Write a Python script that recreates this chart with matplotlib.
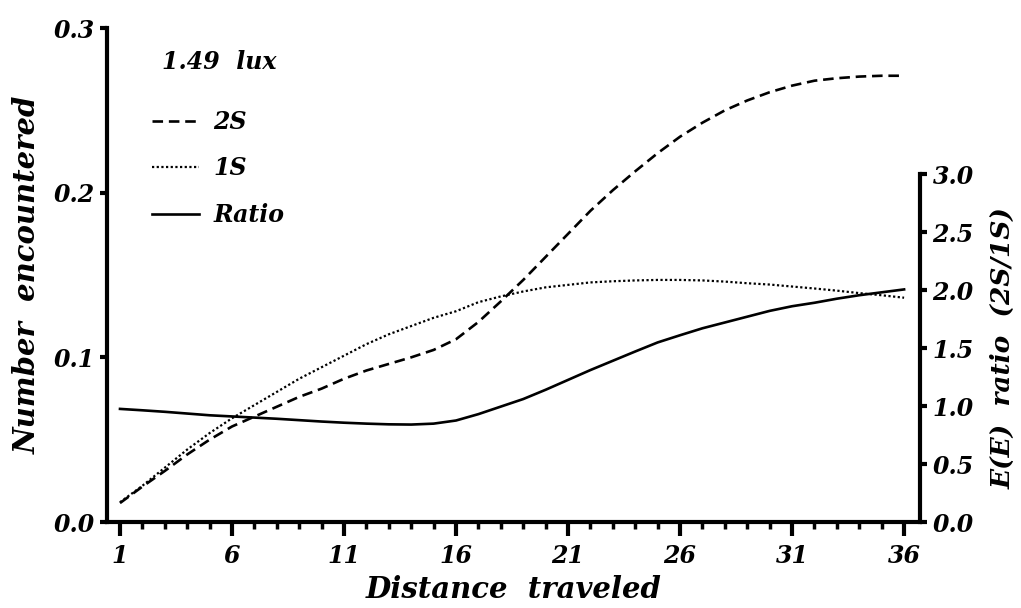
import numpy as np
import matplotlib
matplotlib.use("Agg")
import matplotlib.pyplot as plt
from matplotlib.ticker import MultipleLocator, FormatStrFormatter

# values, one per unit of distance
distance = list(range(1, 37))
two_s = [0.0115, 0.0215, 0.031, 0.041, 0.050, 0.058, 0.064, 0.070, 0.076, 0.081,
         0.087, 0.092, 0.096, 0.100, 0.1045, 0.111, 0.1215, 0.134, 0.147, 0.161,
         0.175, 0.189, 0.2015, 0.213, 0.224, 0.234, 0.2425, 0.250, 0.256, 0.261,
         0.265, 0.268, 0.2695, 0.2705, 0.271, 0.271]
one_s = [0.012, 0.022, 0.033, 0.044, 0.054, 0.063, 0.071, 0.079, 0.087, 0.094,
         0.101, 0.108, 0.114, 0.119, 0.124, 0.128, 0.1335, 0.137, 0.140, 0.1425,
         0.144, 0.1455, 0.1462, 0.1467, 0.147, 0.147, 0.1467, 0.146, 0.145, 0.1442,
         0.143, 0.1418, 0.1405, 0.139, 0.1377, 0.1362]
ratio = [0.975, 0.963, 0.95, 0.935, 0.92, 0.91, 0.90, 0.89, 0.878, 0.866,
         0.856, 0.848, 0.842, 0.840, 0.848, 0.875, 0.93, 0.995, 1.06, 1.14,
         1.225, 1.31, 1.39, 1.47, 1.548, 1.61, 1.67, 1.72, 1.77, 1.82,
         1.86, 1.89, 1.925, 1.955, 1.98, 2.005]
x_ticks = [1, 6, 11, 16, 21, 26, 31, 36]
left_ticks = [0.0, 0.1, 0.2, 0.3]
right_ticks = [0.0, 0.5, 1.0, 1.5, 2.0, 2.5, 3.0]

plt.rcParams["font.family"] = "DejaVu Serif"
plt.rcParams["font.weight"] = "bold"
plt.rcParams["font.style"] = "italic"
plt.rcParams["axes.labelweight"] = "bold"

fig = plt.figure(figsize=(10.21, 6.08), dpi=100)
ax = fig.add_axes([107/1021, 86/608, 813/1021, 494/608])
ax2 = ax.twinx()

l2, = ax.plot(distance, two_s, color="black", lw=1.9, ls=(0, (4, 2.2)), label="2S")
l1, = ax.plot(distance, one_s, color="black", lw=1.6, ls=(0, (1, 1.1)), label="1S")
lr, = ax2.plot(distance, ratio, color="black", lw=1.9, label="Ratio")

ax.set_xlim(0.42, 36.71)
ax.set_ylim(0, 0.3)
ax2.set_ylim(0, 494 / 116)

for a in (ax, ax2):
    for s in a.spines.values():
        s.set_linewidth(3)
    a.spines["top"].set_visible(False)
ax.spines["right"].set_visible(False)
ax2.spines["left"].set_visible(False)
ax2.spines["bottom"].set_visible(False)
ax2.spines["right"].set_bounds(0, 3.0)

ax.set_xticks(x_ticks)
ax.xaxis.set_minor_locator(MultipleLocator(1))
ax.set_yticks(left_ticks)
ax.yaxis.set_major_formatter(FormatStrFormatter("%.1f"))
ax2.set_yticks(right_ticks)
ax2.yaxis.set_major_formatter(FormatStrFormatter("%.1f"))

ax.tick_params(axis="x", which="major", direction="out", length=10, width=3, labelsize=17, pad=6)
ax.tick_params(axis="x", which="minor", direction="out", length=5, width=2.5)
ax.tick_params(axis="y", which="major", direction="out", length=5, width=3, labelsize=17, pad=4)
ax2.tick_params(axis="y", which="major", direction="out", length=5, width=3, labelsize=17, pad=4)

ax.set_xlabel("Distance  traveled", fontsize=21, labelpad=5)
ax.set_ylabel("Number  encountered", fontsize=21, labelpad=8)
ax2.set_ylabel("E(E)  ratio  (2S/1S)", fontsize=19)
ax2.yaxis.set_label_coords(1.087, 0.352)

ax.text(0.0677, 0.931, "1.49  lux", transform=ax.transAxes, fontsize=17,
        ha="left", va="center")
ax.legend(handles=[l2, l1, lr], loc="upper left", bbox_to_anchor=(0.0554, 0.834),
          borderaxespad=0, borderpad=0, frameon=False, fontsize=17,
          handlelength=2.0, handletextpad=0.6, labelspacing=0.95)

fig.savefig("out.png", dpi=100)
